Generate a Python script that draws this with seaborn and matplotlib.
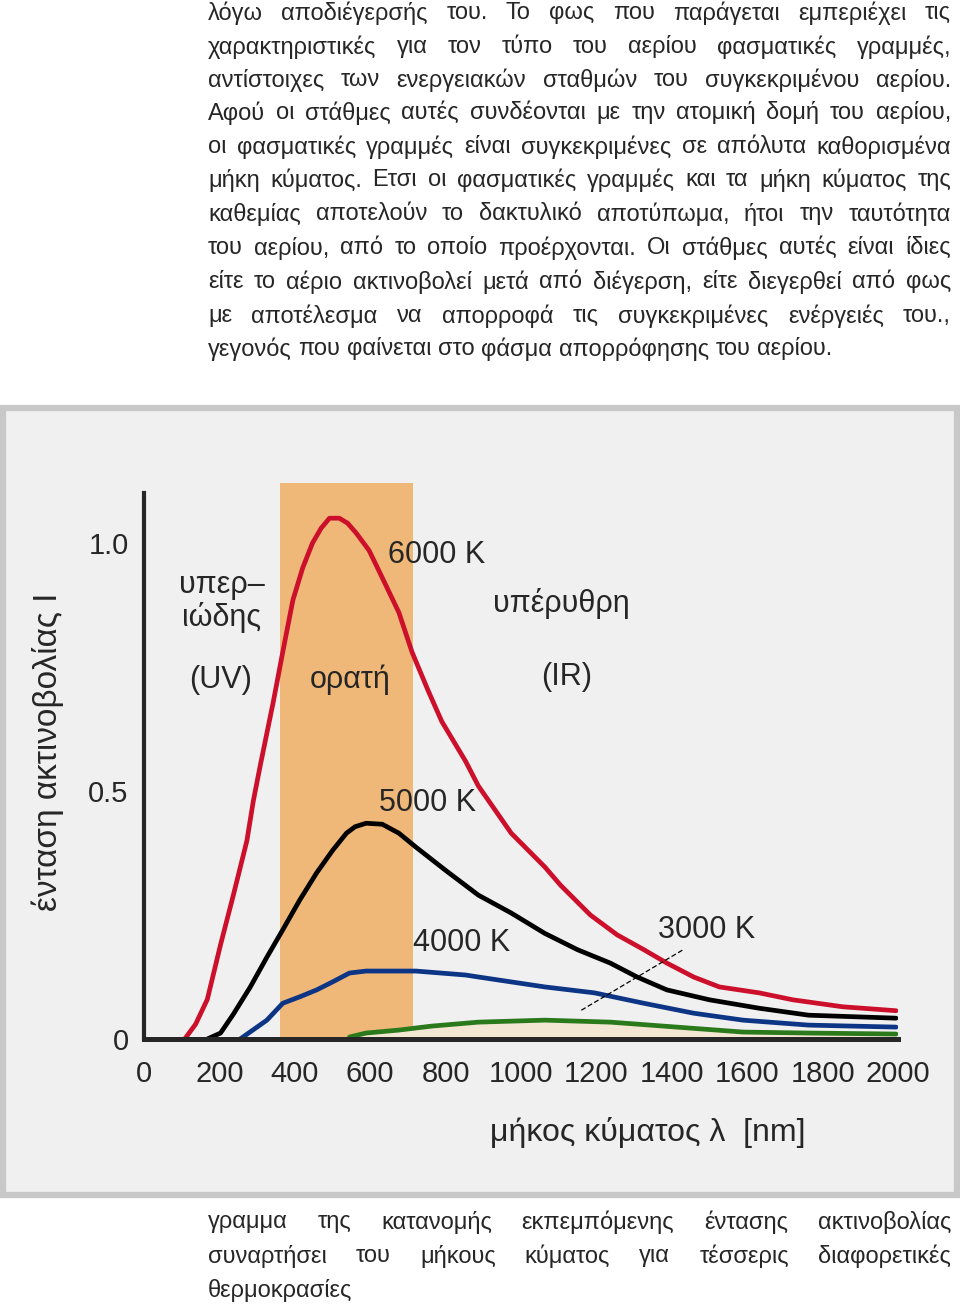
import matplotlib
matplotlib.use("Agg")
import matplotlib.pyplot as plt
from matplotlib.patches import Rectangle
import pandas as pd
import seaborn as sns

# --- data (wavelength in nm, relative intensity) ---
red_nm = [108, 137, 168, 203, 237, 273, 290, 308, 343, 368, 395, 421, 447, 470, 492, 518,
          540, 563, 597, 632, 676, 711, 755, 790, 853, 887, 974, 1063, 1105, 1184, 1255,
          1326, 1387, 1458, 1526, 1632, 1721, 1853, 1995]
red_I = [0.0, 0.03, 0.08, 0.19, 0.29, 0.40, 0.48, 0.55, 0.68, 0.78, 0.885, 0.95, 1.0, 1.03,
         1.05, 1.05, 1.04, 1.02, 0.985, 0.93, 0.86, 0.78, 0.70, 0.64, 0.56, 0.51, 0.415,
         0.347, 0.31, 0.25, 0.21, 0.18, 0.153, 0.125, 0.105, 0.093, 0.079, 0.065, 0.057]

black_nm = [168, 203, 237, 282, 326, 368, 413, 458, 500, 537, 560, 589, 632, 676, 721, 800,
            887, 974, 1063, 1150, 1237, 1308, 1387, 1500, 1632, 1763, 1995]
black_I = [0.0, 0.012, 0.05, 0.105, 0.165, 0.22, 0.28, 0.335, 0.38, 0.415, 0.428, 0.435,
           0.433, 0.415, 0.387, 0.34, 0.29, 0.254, 0.213, 0.18, 0.153, 0.125, 0.099, 0.079,
           0.062, 0.048, 0.042]

blue_nm = [255, 326, 368, 413, 458, 500, 545, 589, 721, 853, 887, 1063, 1195, 1326, 1458,
           1589, 1763, 1995]
blue_I = [0.0, 0.038, 0.072, 0.085, 0.099, 0.115, 0.133, 0.137, 0.137, 0.129, 0.125, 0.105,
          0.093, 0.072, 0.052, 0.038, 0.028, 0.024]

green_nm = [545, 589, 676, 763, 887, 1063, 1237, 1413, 1589, 1763, 1995]
green_I = [0.004, 0.012, 0.018, 0.026, 0.034, 0.038, 0.034, 0.024, 0.014, 0.012, 0.010]

temps = ["6000 K", "5000 K", "4000 K", "3000 K"]
visible_band = (361, 713)
x_ticks = [0, 200, 400, 600, 800, 1000, 1200, 1400, 1600, 1800, 2000]
y_ticks = [0, 0.1, 0.2, 0.3, 0.4, 0.5, 0.6, 0.7, 0.8, 0.9, 1.0, 1.1]
y_ticklabels = ["0", "", "", "", "", "0.5", "", "", "", "", "1.0", ""]

para_lines = [
    "λόγω αποδιέγερσής του. Το φως που παράγεται εμπεριέχει τις",
    "χαρακτηριστικές για τον τύπο του αερίου φασματικές γραμμές,",
    "αντίστοιχες των ενεργειακών σταθμών του συγκεκριμένου αερίου.",
    "Αφού οι στάθμες αυτές συνδέονται με την ατομική δομή του αερίου,",
    "οι φασματικές γραμμές είναι συγκεκριμένες σε απόλυτα καθορισμένα",
    "μήκη κύματος. Ετσι οι φασματικές γραμμές και τα μήκη κύματος της",
    "καθεμίας αποτελούν το δακτυλικό αποτύπωμα, ήτοι την ταυτότητα",
    "του αερίου, από το οποίο προέρχονται. Οι στάθμες αυτές είναι ίδιες",
    "είτε το αέριο ακτινοβολεί μετά από διέγερση, είτε διεγερθεί από φως",
    "με αποτέλεσμα να απορροφά τις συγκεκριμένες ενέργειές του.,",
    "γεγονός που φαίνεται στο φάσμα απορρόφησης του αερίου.",
]
caption_lines = [
    "γραμμα της κατανομής εκπεμπόμενης έντασης ακτινοβολίας",
    "συναρτήσει του μήκους κύματος για τέσσερις διαφορετικές",
    "θερμοκρασίες",
]

sns.set_style("white")
CHART_FONT = ["Liberation Sans", "DejaVu Sans"]
BODY_FONT = ["Liberation Sans", "DejaVu Sans"]
plt.rcParams["font.family"] = BODY_FONT

W, H = 960, 1305
fig = plt.figure(figsize=(W / 100, H / 100), dpi=100)
fig.patch.set_facecolor("white")


def fx(px):
    return px / W


def fy(py):
    return (H - py) / H


# gray panel behind the chart
fig.add_artist(Rectangle((fx(3), fy(1195)), fx(954), (1195 - 408) / H,
                         transform=fig.transFigure, facecolor="#f0f0f0",
                         edgecolor="#c8c8c8", linewidth=4.5, zorder=0))

# axes: x 0..2000 -> px 144..898, y 0 at px 1039, 1.0 at px 543
y_top = 1.12
ax = fig.add_axes([fx(144), fy(1039), fx(898) - fx(144), y_top * 496 / H])
ax.set_facecolor("none")
ax.set_xlim(0, 2000)
ax.set_ylim(0, y_top)

ax.axvspan(*visible_band, ymin=0, ymax=1.0, color="#f0b878", lw=0, zorder=0)
ax.fill_between(green_nm, 0, green_I, color="#f3e6d2", lw=0, zorder=0.5)

df = pd.concat([
    pd.DataFrame({"nm": red_nm, "I": red_I, "T": temps[0]}),
    pd.DataFrame({"nm": black_nm, "I": black_I, "T": temps[1]}),
    pd.DataFrame({"nm": blue_nm, "I": blue_I, "T": temps[2]}),
    pd.DataFrame({"nm": green_nm, "I": green_I, "T": temps[3]}),
])
palette = {temps[0]: "#cc0f2a", temps[1]: "#000000",
           temps[2]: "#0d3585", temps[3]: "#2a7a1c"}
sns.lineplot(data=df, x="nm", y="I", hue="T", palette=palette, lw=3.4,
             legend=False, ax=ax, zorder=3)

# pointer for the 3000 K label
ax.plot([1160, 1430], [0.058, 0.18], color="black", lw=0.9, ls=(0, (4, 2)), zorder=4)

for s in ["top", "right"]:
    ax.spines[s].set_visible(False)
ax.spines["left"].set_bounds(0, 1.1)
ax.spines["left"].set_linewidth(3.0)
ax.spines["bottom"].set_linewidth(3.6)
ax.spines["left"].set_zorder(5)
ax.spines["bottom"].set_zorder(5)

ax.set_yticks(y_ticks)
ax.set_yticklabels(y_ticklabels, family=CHART_FONT, fontsize=21)
ax.tick_params(axis="y", direction="in", length=11, width=1.8, color="#333344", pad=11)
ax.set_xticks(x_ticks)
ax.set_xticklabels([str(t) for t in x_ticks], family=CHART_FONT, fontsize=21)
ax.tick_params(axis="x", direction="in", length=5, width=1.4, color="#333344", pad=15)
ax.set_xlabel("")
ax.set_ylabel("")

# labels inside the chart
lab = dict(family=CHART_FONT, fontsize=22, ha="center", va="center", zorder=6)
ax.text(777, 0.976, "6000 K", **lab)
ax.text(753, 0.476, "5000 K", **lab)
ax.text(843, 0.194, "4000 K", **lab)
ax.text(1493, 0.22, "3000 K", **lab)
ax.text(207, 0.882, "υπερ–\nιώδης", linespacing=1.05, **lab)
ax.text(202, 0.724, "(UV)", **lab)
ax.text(546, 0.724, "ορατή", **lab)
ax.text(1106, 0.879, "υπέρυθρη", **lab)
ax.text(1122, 0.73, "(IR)", **lab)

fig.text(fx(648), fy(1133), "μήκος κύματος λ  [nm]", family=CHART_FONT, fontsize=23,
         ha="center", va="center")
fig.text(fx(48), fy(752), "ένταση ακτινοβολίας I", family=CHART_FONT, fontsize=24,
         ha="center", va="center", rotation=90)

# justified body text
renderer = fig.canvas.get_renderer()
BODY_SIZE = 17


def set_line(line, ycen, x0=208, x1=951, justify=True):
    words = line.split()
    texts = [fig.text(0, fy(ycen), w, fontsize=BODY_SIZE, family=BODY_FONT,
                      ha="left", va="center") for w in words]
    widths = [t.get_window_extent(renderer).width for t in texts]
    if justify and len(words) > 1:
        gap = (x1 - x0 - sum(widths)) / (len(words) - 1)
    else:
        gap = BODY_SIZE * 1.389 * 0.28
    x = x0
    for t, w in zip(texts, widths):
        t.set_x(fx(x))
        x += w + gap


para_y = [13, 47, 80, 113, 147, 180, 214, 248, 282, 316, 349]
for i, (line, yy) in enumerate(zip(para_lines, para_y)):
    set_line(line, yy, justify=i < len(para_lines) - 1)

cap_y = [1222, 1256, 1290]
for i, (line, yy) in enumerate(zip(caption_lines, cap_y)):
    set_line(line, yy, justify=i < len(caption_lines) - 1)

fig.savefig("out.png", dpi=100, facecolor="white")
